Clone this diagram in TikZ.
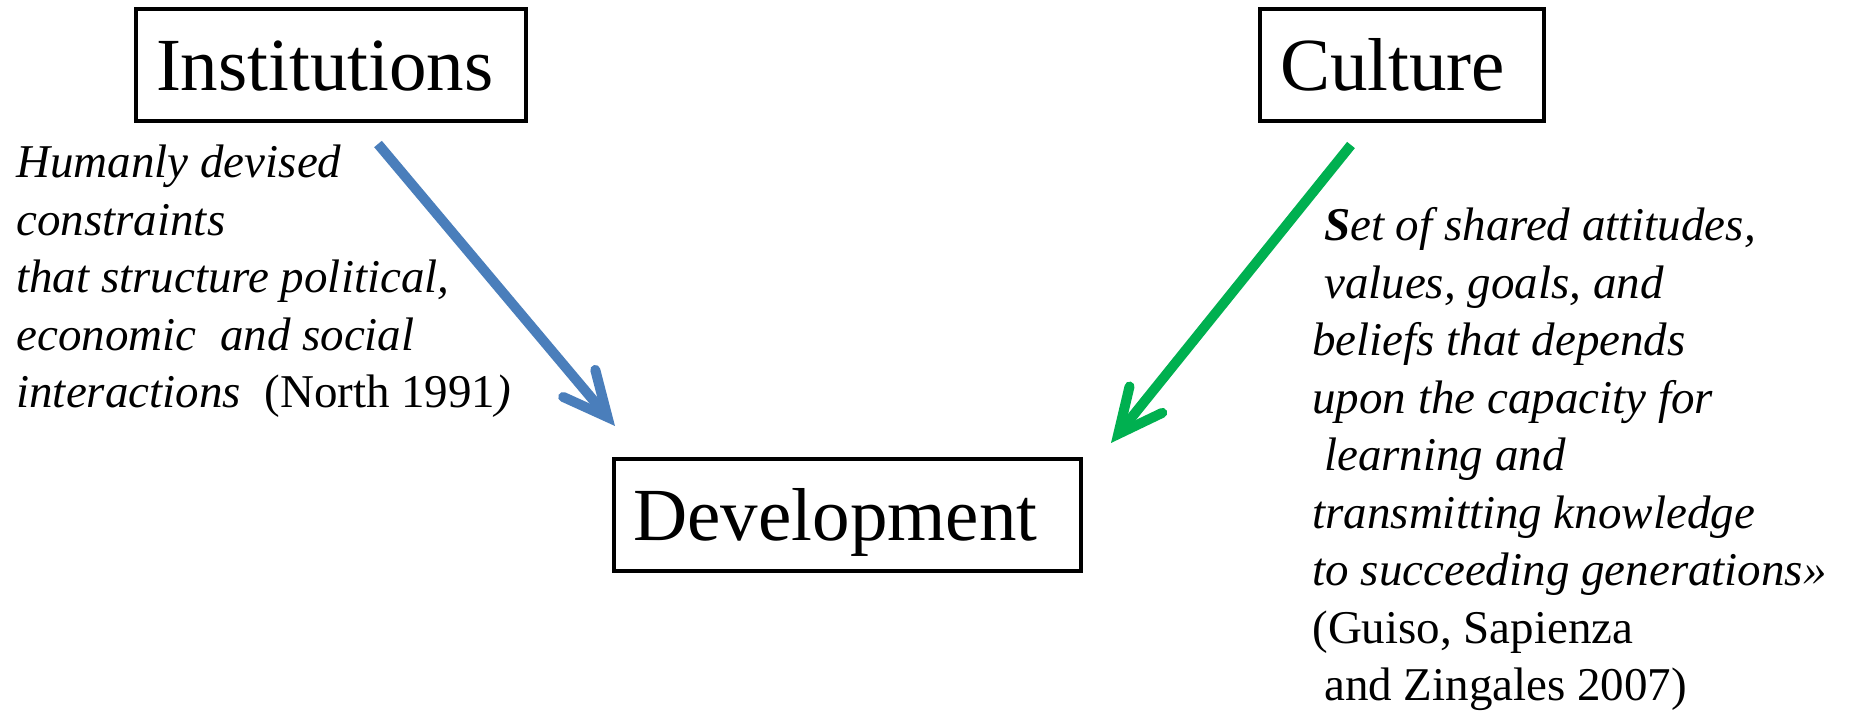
\documentclass[tikz,border=0pt]{standalone}
\usepackage{fontspec}
\setmainfont{Liberation Serif}
\usetikzlibrary{arrows.meta}
\definecolor{arrowblue}{HTML}{4A7EBB}
\definecolor{arrowgreen}{HTML}{00B050}
\tikzset{
  conceptbox/.style={draw=black, line width=2pt, inner ysep=0pt, inner xsep=10pt,
    align=left, text height=41pt, text depth=15pt,
    font=\fontsize{37.5}{45}\selectfont},
  desc/.style={inner sep=0pt, align=left, anchor=base west,
    font=\fontsize{23.5}{28.75}\selectfont},
  flow/.style={line width=5pt, line cap=butt,
    -{Straight Barb[length=22pt, width=21pt, line cap=round, line join=miter]}},
}
\begin{document}
\begin{tikzpicture}[x=0.5pt, y=-0.5pt]
\useasboundingbox (0,0) rectangle (1854,715);
\node[conceptbox, text width=175pt] (inst) at (331,65) {Institutions};
\node[conceptbox, text width=122pt] (cult) at (1402,65) {Culture};
\node[conceptbox, text width=213.5pt] (dev) at (847,515) {Development};

\node[desc] (instdesc) at (16,408) {\textit{Humanly devised}\\
\textit{constraints}\\
\textit{that structure political,}\\
\textit{economic\ \ and social}\\
\textit{interactions}\ \ (North 1991\textit{)}};

\node[desc] (cultdesc) at (1312,701) {\hspace*{0.25em}\textit{\textbf{S}et of shared attitudes,}\\
\hspace*{0.25em}\textit{values, goals, and}\\
\textit{beliefs that depends}\\
\textit{upon the capacity for}\\
\hspace*{0.25em}\textit{learning and}\\
\textit{transmitting knowledge}\\
\textit{to succeeding generations»}\\
(Guiso, Sapienza\\
\hspace*{0.25em}and Zingales 2007)};

\coordinate (bs) at (378,144);
\coordinate (bt) at (615,426);
\coordinate (gs) at (1351,145);
\coordinate (gt) at (1111,443);
\draw[flow, arrowblue] (bs) -- (bt);
\draw[flow, arrowgreen] (gs) -- (gt);
\end{tikzpicture}
\end{document}
